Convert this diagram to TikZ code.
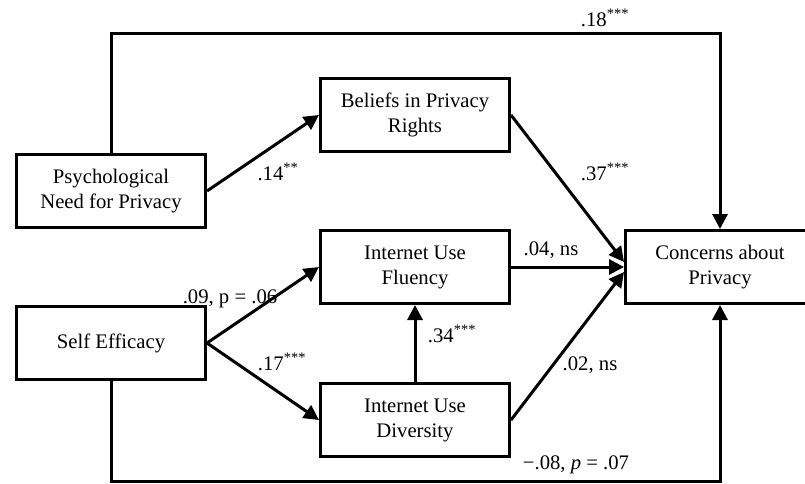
\documentclass[tikz,border=0pt]{standalone}
\usepackage{fontspec}
\setmainfont{Liberation Serif}
\usetikzlibrary{arrows.meta}
\begin{document}
\begin{tikzpicture}[x=1pt,y=-1pt,
  box/.style={draw, line width=3pt, minimum width=189pt, minimum height=73pt, inner sep=0pt, align=center, font=\fontsize{20.7}{25}\selectfont},
  lab/.style={anchor=base, inner sep=0pt, font=\fontsize{20.7}{25}\selectfont},
  conn/.style={line width=3pt, -{Triangle[length=15pt,width=15pt]}}]
\useasboundingbox (0,0) rectangle (805,483);
\clip (0,0) rectangle (805,483);
\fill[white] (0,0) rectangle (805,483);
\node[box] (pn) at (111,191) {Psychological\\Need for Privacy};
\node[box] (bel) at (415,115) {Beliefs in Privacy\\Rights};
\node[box] (flu) at (415,267) {Internet Use\\Fluency};
\node[box] (div) at (415,420) {Internet Use\\Diversity};
\node[box] (se) at (111,343) {Self Efficacy};
\node[box] (con) at (720,267) {Concerns about\\Privacy};
\coordinate (top) at (415,33);
\coordinate (bot) at (415,481);
\draw[conn] (pn.east) -- (bel.west);
\draw[conn] (se.east) -- (flu.west);
\draw[conn] (se.east) -- (div.west);
\draw[conn] (div.north) -- (flu.south);
\draw[conn] (bel.east) -- ([yshift=5pt]con.west);
\draw[conn] (flu.east) -- (con.west);
\draw[conn] (div.east) -- ([yshift=-5pt]con.west);
\draw[conn] (pn.north) |- (top) -| (con.north);
\draw[conn] (se.south) |- (bot) -| (con.south);
\node[lab] (l1) at (605,26) {.18\textsuperscript{***}};
\node[lab] (l2) at (278,180) {.14\textsuperscript{**}};
\node[lab] (l3) at (605,180) {.37\textsuperscript{***}};
\node[lab] (l4) at (230,303) {.09, p = .06};
\node[lab] (l5) at (282,370) {.17\textsuperscript{***}};
\node[lab] (l6) at (551,255) {.04, ns};
\node[lab] (l7) at (452,342) {.34\textsuperscript{***}};
\node[lab] (l8) at (590,370) {.02, ns};
\node[lab] (l9) at (576,469) {−.08, \textit{p} = .07};
\end{tikzpicture}
\end{document}
